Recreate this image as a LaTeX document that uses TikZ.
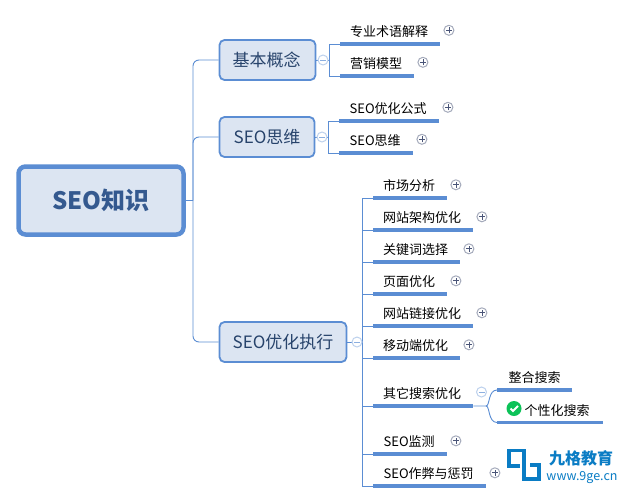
\documentclass[tikz,border=0pt]{standalone}
\usepackage{fontspec}
\setmainfont{Noto Sans CJK SC}
\usetikzlibrary{positioning}
\definecolor{linkblue}{HTML}{5B8DD3}
\definecolor{boxfill}{HTML}{DCE5F2}
\definecolor{boxtext}{HTML}{34598F}
\definecolor{logoblue}{HTML}{0A7CC4}
\definecolor{donegreen}{HTML}{0CC258}
\definecolor{markline}{HTML}{4A5578}
\tikzset{
  rootbox/.style={draw=linkblue,fill=boxfill,line width=4.5pt,rounded corners=7pt,minimum width=165pt,minimum height=68pt,text=boxtext,font=\fontsize{24}{24}\selectfont\bfseries},
  mainbox/.style={draw=linkblue,fill=boxfill,line width=1.8pt,rounded corners=5pt,minimum height=40pt,text=boxtext!75!black,font=\fontsize{17}{17}\selectfont},
  topic/.style={minimum height=24pt,inner xsep=0pt,inner ysep=0pt,font=\fontsize{13}{13}\selectfont,text=black},
  link/.style={draw=linkblue,line width=0.9pt},
  uline/.style={draw=linkblue,line width=3.2pt},
  plusmark/.style={circle,draw=markline!50,line width=1pt,fill=white,minimum size=10pt,inner sep=0pt,path picture={\draw[markline,line width=0.8pt] (path picture bounding box.center)+(-3pt,0)--+(3pt,0) (path picture bounding box.center)+(0,-3pt)--+(0,3pt);}},
  minusmark/.style={circle,draw=linkblue!40,line width=1pt,fill=white,minimum size=10pt,inner sep=0pt,path picture={\draw[linkblue!70,line width=0.8pt] (path picture bounding box.center)+(-3pt,0)--+(3pt,0);}},
}
\begin{document}
\begin{tikzpicture}[x=1pt,y=-1pt]
\useasboundingbox (0,0) rectangle (620,503);

\node[rootbox] (root) at (101,200.5) {SEO知识};
\node[mainbox,minimum width=96pt] (basic) at (267.5,60) {\hspace*{-1pt}基本概念\hspace*{1pt}};
\node[mainbox,minimum width=95pt] (think) at (267,137) {SEO思维};
\node[mainbox,minimum width=127pt] (exec) at (283,342) {SEO优化执行};

\coordinate (trunk) at (193,200.5);
\draw[link] (root.east) -- (trunk);
\draw[link,rounded corners=6pt] (basic.west) -| (trunk) |- (exec.west);
\draw[link,rounded corners=6pt] (think.west) -| (trunk);

% first two groups
\foreach \name/\txt/\xa/\xb/\ypos in {term/专业术语解释/340/440/44, model/营销模型/340/414/76, formula/SEO优化公式/339/439/121, idea/SEO思维/339/413/153}{
  \node[topic,minimum width=\xb pt-\xa pt,anchor=south west] (\name) at (\xa,\ypos) {\txt\hspace*{2pt}};
  \draw[uline] (\name.south west) -- (\name.south east);
  \node[plusmark,right=3pt of \name.east,yshift=1.5pt] (\name-mark) {};
}
\draw[link] (basic.east) -- (329,60);
\draw[link] (term.south west) -- (329,44) -- (329,76) -- (model.south west);
\draw[link] (think.east) -- (328,137);
\draw[link] (formula.south west) -- (328,121) -- (328,153) -- (idea.south west);
\node[minusmark] (basic-mark) at (323,60) {};
\node[minusmark] (think-mark) at (322,137) {};

% long group
\foreach \name/\txt/\xb/\ypos in {market/市场分析/447/198, arch/网站架构优化/473/230, keyword/关键词选择/460/262, page/页面优化/447/294, backlink/网站链接优化/473/326, mobile/移动端优化/460/358, other/其它搜索优化/473/406, watch/SEO监测/447/454, cheat/SEO作弊与惩罚/486/486}{
  \node[topic,minimum width=\xb pt-373pt,anchor=south west] (\name) at (373,\ypos) {\txt\hspace*{2pt}};
  \draw[uline] (\name.south west) -- (\name.south east);
  \draw[link] (362.5,\ypos) -- (\name.south west);
}
\foreach \name in {market,arch,keyword,page,backlink,mobile,watch,cheat}
  \node[plusmark,right=3pt of \name.east,yshift=1pt] (\name-mark) {};
\draw[link] (market.south west) -- (362.5,198) -- (362.5,486) -- (cheat.south west);
\draw[link] (exec.east) -- (362.5,342);
\node[minusmark] (exec-mark) at (357,342) {};

% sub group
\node[topic,minimum width=75pt,anchor=south west] (whole) at (497,390) {整合搜索};
\node[topic,minimum width=106pt,anchor=south west] (person) at (497,422.5) {\hspace*{27pt}\hfill 个性化搜索\hspace*{13pt}};
\draw[uline] (whole.south west) -- (whole.south east);
\draw[uline] (person.south west) -- (person.south east);
\node[minusmark] (other-mark) at (481.5,392) {};
\draw[link] (other.south east) -- (486,406) .. controls (490,406) and (488,390) .. (whole.south west);
\draw[link] (486,406) .. controls (490,406) and (488,422.5) .. (person.south west);
\node[circle,fill=donegreen,minimum size=15pt,inner sep=0pt] (done) at (514,408.5) {};
\draw[white,line width=1.8pt] (510.5,408.5) -- (513,411) -- (518,406);

% logo
\draw[logoblue,line width=3.6pt,line join=miter] (520,466) -- (509,466) -- (509,450.5) -- (524,450.5) -- (524,479) -- (539,479) -- (539,465) -- (530,465);
\node[font=\fontsize{16}{16}\selectfont\bfseries,text=logoblue,inner sep=0pt] (brand) at (581,458) {九格教育};
\node[font=\fontsize{12.5}{12.5}\selectfont,text=logoblue,inner sep=0pt,below=5.5pt of brand,xshift=1pt] (site) {www.9ge.cn};
\end{tikzpicture}
\end{document}
